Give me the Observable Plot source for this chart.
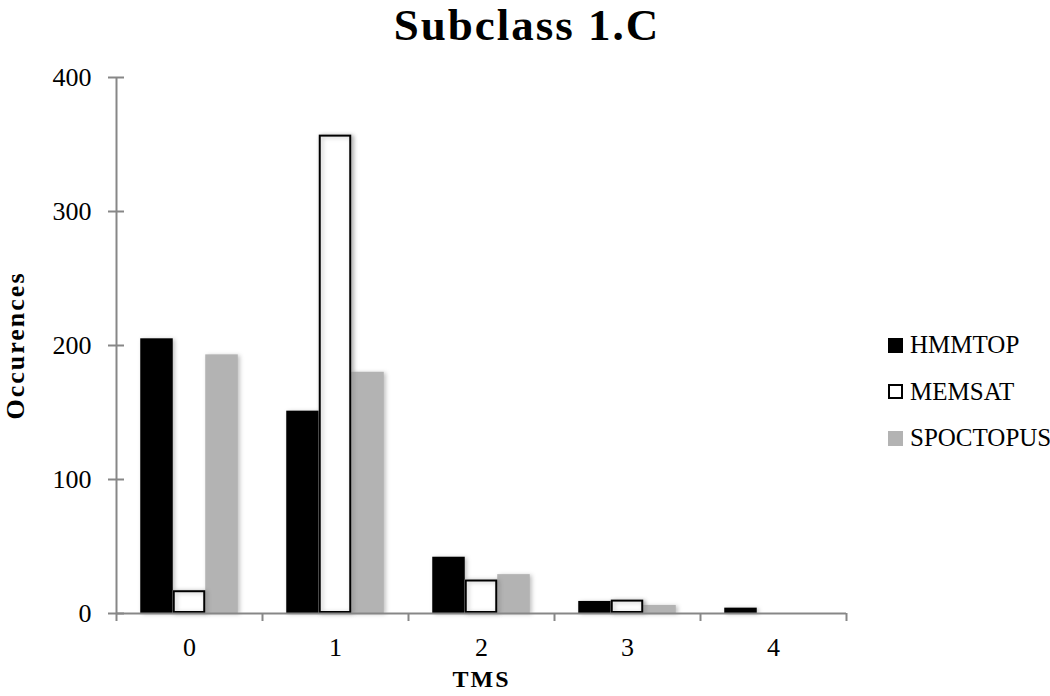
<!DOCTYPE html>
<html>
<head>
<meta charset="utf-8">
<script src="https://cdn.jsdelivr.net/npm/d3@7"></script>
<script src="https://cdn.jsdelivr.net/npm/@observablehq/plot@0.6"></script>
<style>
  html, body { margin: 0; padding: 0; background: #fff; }
  body { width: 1050px; height: 696px; position: relative; overflow: hidden; font-family: "Liberation Serif", serif; color: #000; }
  #title { position: absolute; left: 0; top: 3px; width: 1054px; text-align: center; font-size: 45px; font-weight: bold; line-height: 45px; letter-spacing: 2px; }
  #chart { position: absolute; left: 0; top: 60px; }
  #legend { position: absolute; left: 888px; top: 322px; }
  .row { display: flex; align-items: center; height: 46.5px; font-size: 25px; }
  .sw { width: 15px; height: 15px; box-sizing: border-box; margin-right: 7px; }
  #chart g[aria-label="rect"] rect { filter: drop-shadow(2px 1px 2px rgba(0,0,0,0.25)); }
  #chart g[aria-label="text"] text { letter-spacing: 2px; }
</style>
</head>
<body>
<div id="title">Subclass 1.C</div>
<div id="chart"></div>
<div id="legend"></div>
<script>
// ---- data ----
const categories = ["0", "1", "2", "3", "4"];
const seriesNames = ["HMMTOP", "MEMSAT", "SPOCTOPUS"];
const hmmtop = [205, 151, 42, 9, 4];
const memsat = [17, 357, 25, 10, 0];
const spoctopus = [193, 180, 29, 6, 0];
const yTicks = [0, 100, 200, 300, 400];
const xLabel = "TMS";
const yLabel = "Occurences";

// ---- styles ----
const seriesFill = ["#000000", "#ffffff", "#b3b3b3"];
const axisColor = "#878787";
const barFrac = 0.2226; // bar width as a fraction of one category step

const values = [hmmtop, memsat, spoctopus];
const data = seriesNames.flatMap((s, k) =>
  categories.map((c, i) => ({series: s, k, tms: i, label: c, value: values[k][i]}))
);
const x1 = d => d.tms + (d.k - 1.5) * barFrac;
const x2 = d => d.tms + (d.k - 0.5) * barFrac;
const boundaries = categories.map((c, i) => i - 0.5).concat([categories.length - 0.5]);

const chart = Plot.plot({
  width: 870,
  height: 636,
  marginTop: 17,
  marginBottom: 83,
  marginLeft: 116,
  marginRight: 24,
  style: {fontFamily: "Liberation Serif", fontSize: "26px", background: "#fff", color: "#000"},
  x: {type: "linear", domain: [-0.5, categories.length - 0.5], axis: null},
  y: {domain: [0, 400], axis: null},
  color: {domain: seriesNames, range: seriesFill},
  marks: [
    Plot.rect(data, {x1, x2, y1: 0, y2: "value", fill: "series"}),
    Plot.rect(data.filter(d => d.series === "MEMSAT" && d.value > 0),
      {x1, x2, y1: 0, y2: "value", fill: "none", stroke: "#000", strokeWidth: 2, inset: 1}),
    // y axis
    Plot.ruleX([-0.5], {y1: 0, y2: 400, stroke: axisColor, strokeWidth: 2}),
    Plot.axisY({ticks: yTicks, tickSize: 16, dx: 8, tickFormat: () => "", stroke: axisColor, strokeWidth: 2, label: null}),
    Plot.axisY({ticks: yTicks, tickSize: 0, tickPadding: 25, fontSize: 26, label: null}),
    // x axis
    Plot.ruleY([0], {stroke: axisColor, strokeWidth: 2}),
    Plot.axisX({ticks: boundaries, tickSize: 8, tickFormat: () => "", stroke: axisColor, strokeWidth: 2, label: null}),
    Plot.axisX({ticks: categories.map((c, i) => i), tickSize: 0, tickPadding: 24, tickFormat: i => categories[i], fontSize: 26, label: null}),
    // axis titles
    Plot.text([xLabel], {frameAnchor: "bottom", dy: 73, fontWeight: "bold", fontSize: 24}),
    Plot.text([yLabel], {frameAnchor: "left", dx: -101, rotate: -90, textAnchor: "middle", fontWeight: "bold", fontSize: 26})
  ]
});
document.getElementById("chart").appendChild(chart);

// legend
const legend = document.getElementById("legend");
seriesNames.forEach((s, k) => {
  const row = document.createElement("div");
  row.className = "row";
  const sw = document.createElement("div");
  sw.className = "sw";
  sw.style.background = seriesFill[k];
  if (s === "MEMSAT") sw.style.border = "2px solid #000";
  const t = document.createElement("span");
  t.textContent = s;
  row.appendChild(sw);
  row.appendChild(t);
  legend.appendChild(row);
});
</script>
</body>
</html>
